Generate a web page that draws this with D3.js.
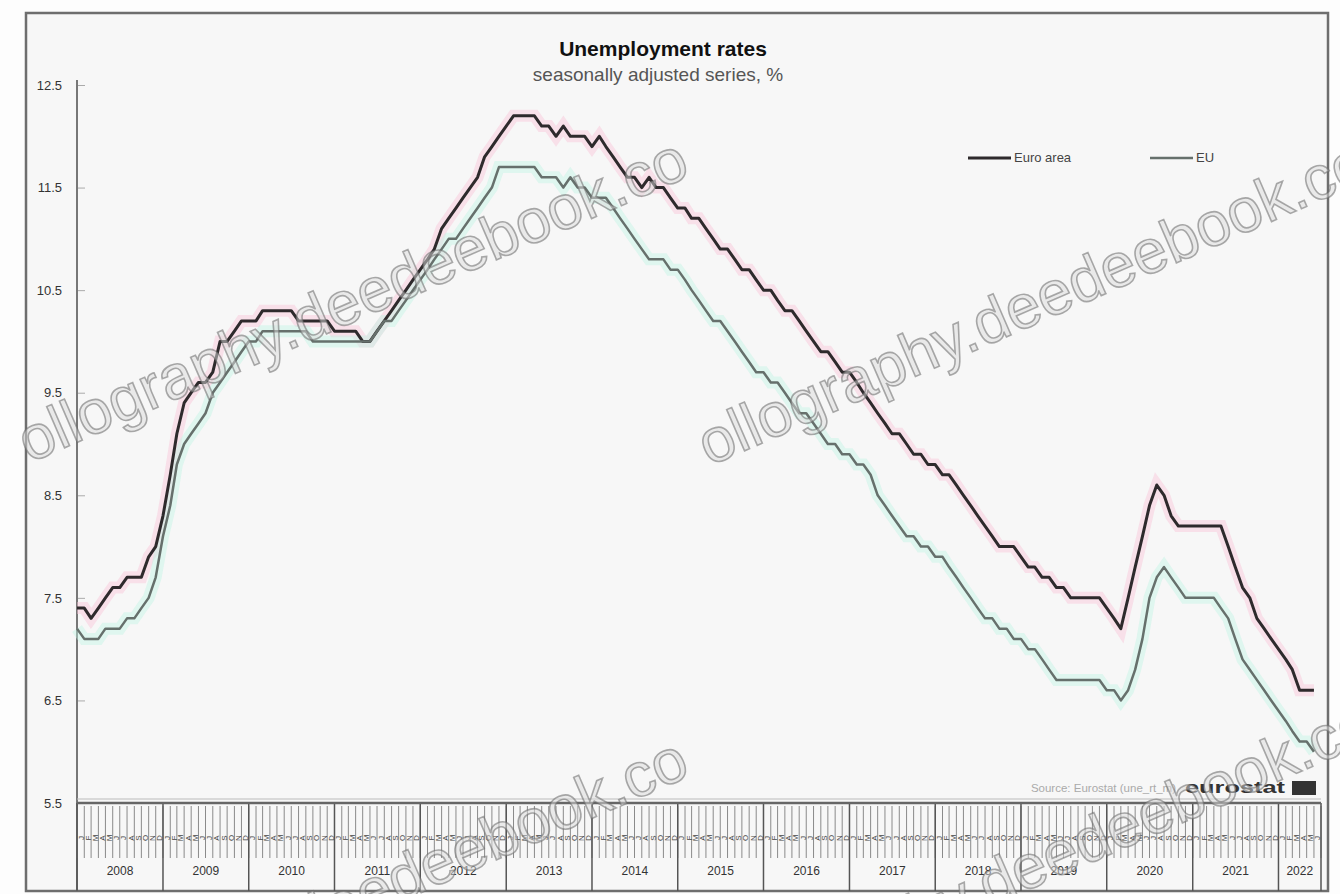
<!DOCTYPE html>
<html><head><meta charset="utf-8">
<script src="https://cdn.jsdelivr.net/npm/d3@7"></script>
<style>body{margin:0;background:#fdfdfd}svg{display:block;font-family:Arial,"Liberation Sans",sans-serif}</style>
</head><body><svg id="c" width="1340" height="894"></svg>
<script>
// ---- data ----
const title = "Unemployment rates";
const subtitle = "seasonally adjusted series, %";
const seriesNames = ["Euro area", "EU"];
const yTicks = [5.5, 6.5, 7.5, 8.5, 9.5, 10.5, 11.5, 12.5];
const years = [2008,2009,2010,2011,2012,2013,2014,2015,2016,2017,2018,2019,2020,2021,2022];
const monthLetters = ["J","F","M","A","M","J","J","A","S","O","N","D"];
// monthly values from 2008-01 to 2022-06
const euroArea = [
  7.4,7.4,7.3,7.4,7.5,7.6,7.6,7.7,7.7,7.7,7.9,8.0,
  8.3,8.7,9.1,9.4,9.5,9.6,9.6,9.7,10.0,10.0,10.1,10.2,
  10.2,10.2,10.3,10.3,10.3,10.3,10.3,10.2,10.2,10.2,10.2,10.2,
  10.1,10.1,10.1,10.1,10.0,10.0,10.1,10.2,10.3,10.4,10.5,10.6,
  10.7,10.8,10.9,11.1,11.2,11.3,11.4,11.5,11.6,11.8,11.9,12.0,
  12.1,12.2,12.2,12.2,12.2,12.1,12.1,12.0,12.1,12.0,12.0,12.0,
  11.9,12.0,11.9,11.8,11.7,11.6,11.6,11.5,11.6,11.5,11.5,11.4,
  11.3,11.3,11.2,11.2,11.1,11.0,10.9,10.9,10.8,10.7,10.7,10.6,
  10.5,10.5,10.4,10.3,10.3,10.2,10.1,10.0,9.9,9.9,9.8,9.7,
  9.7,9.6,9.5,9.4,9.3,9.2,9.1,9.1,9.0,8.9,8.9,8.8,
  8.8,8.7,8.7,8.6,8.5,8.4,8.3,8.2,8.1,8.0,8.0,8.0,
  7.9,7.8,7.8,7.7,7.7,7.6,7.6,7.5,7.5,7.5,7.5,7.5,
  7.4,7.3,7.2,7.5,7.8,8.1,8.4,8.6,8.5,8.3,8.2,8.2,
  8.2,8.2,8.2,8.2,8.2,8.0,7.8,7.6,7.5,7.3,7.2,7.1,
  7.0,6.9,6.8,6.6,6.6,6.6
];
const eu = [
  7.2,7.1,7.1,7.1,7.2,7.2,7.2,7.3,7.3,7.4,7.5,7.7,
  8.1,8.4,8.8,9.0,9.1,9.2,9.3,9.5,9.6,9.7,9.8,9.9,
  10.0,10.0,10.1,10.1,10.1,10.1,10.1,10.1,10.1,10.0,10.0,10.0,
  10.0,10.0,10.0,10.0,10.0,10.0,10.1,10.2,10.2,10.3,10.4,10.5,
  10.6,10.7,10.8,10.9,11.0,11.0,11.1,11.2,11.3,11.4,11.5,11.7,
  11.7,11.7,11.7,11.7,11.7,11.6,11.6,11.6,11.5,11.6,11.5,11.5,
  11.4,11.4,11.4,11.3,11.2,11.1,11.0,10.9,10.8,10.8,10.8,10.7,
  10.7,10.6,10.5,10.4,10.3,10.2,10.2,10.1,10.0,9.9,9.8,9.7,
  9.7,9.6,9.6,9.5,9.4,9.3,9.3,9.2,9.1,9.0,9.0,8.9,
  8.9,8.8,8.8,8.7,8.5,8.4,8.3,8.2,8.1,8.1,8.0,8.0,
  7.9,7.9,7.8,7.7,7.6,7.5,7.4,7.3,7.3,7.2,7.2,7.1,
  7.1,7.0,7.0,6.9,6.8,6.7,6.7,6.7,6.7,6.7,6.7,6.7,
  6.6,6.6,6.5,6.6,6.8,7.1,7.5,7.7,7.8,7.7,7.6,7.5,
  7.5,7.5,7.5,7.5,7.4,7.3,7.1,6.9,6.8,6.7,6.6,6.5,
  6.4,6.3,6.2,6.1,6.1,6.0
];
const watermarkText = "ollography.deedeebook.co";

// ---- chart ----
const svg = d3.select("#c");
const W = 1340, H = 894;
const L = 77, R = 1321, T = 85, B = 803;

svg.append("rect").attr("width", W).attr("height", H).attr("fill", "#fdfdfd");
svg.append("rect").attr("x", 26).attr("y", 13).attr("width", 1302).attr("height", 878)
  .attr("fill", "#f7f7f7").attr("stroke", "#6e6e6e").attr("stroke-width", 2.5);

const dates = euroArea.map((d, i) => new Date(2008, i, 1));
const x = d3.scaleTime().domain([new Date(2008, 0, 1), new Date(2022, 6, 1)]).range([L, R]);
const y = d3.scaleLinear().domain([5.5, 12.5]).range([B, T]);

// title
svg.append("text").attr("x", 663).attr("y", 56).attr("text-anchor", "middle")
  .attr("font-size", 21).attr("font-weight", "bold").attr("fill", "#111").text(title);
svg.append("text").attr("x", 658).attr("y", 81).attr("text-anchor", "middle")
  .attr("font-size", 19).attr("fill", "#555").text(subtitle);

// y axis
const yAxis = d3.axisLeft(y).tickValues(yTicks).tickFormat(d3.format(".1f")).tickSize(-8).tickPadding(15);
const gy = svg.append("g").attr("transform", `translate(${L},0)`).call(yAxis);
gy.select(".domain").remove();
gy.selectAll(".tick line").attr("stroke", "#aaa");
gy.selectAll(".tick text").attr("font-size", 13).attr("fill", "#333").attr("font-family", "Arial, sans-serif");
svg.append("line").attr("x1", L).attr("x2", L).attr("y1", 80).attr("y2", 891)
  .attr("stroke", "#777").attr("stroke-width", 2);

// x axis area
const monthStarts = d3.timeMonth.range(new Date(2008, 0, 1), new Date(2022, 7, 1));
svg.append("g").selectAll("line").data(monthStarts).join("line")
  .attr("x1", d => x(d)).attr("x2", d => x(d)).attr("y1", 806).attr("y2", 858)
  .attr("stroke", "#8a8a8a").attr("stroke-width", 1);
svg.append("g").selectAll("text").data(monthStarts.slice(0, -1)).join("text")
  .attr("transform", d => `translate(${x(d3.timeDay.offset(d, 15)) + 3},838) rotate(-90)`)
  .attr("text-anchor", "middle").attr("font-size", 8).attr("fill", "#444")
  .text(d => monthLetters[d.getMonth()]);
const yearStarts = years.map(yr => new Date(yr, 0, 1));
svg.append("g").selectAll("line").data(yearStarts.concat([new Date(2022, 6, 1)])).join("line")
  .attr("x1", d => x(d)).attr("x2", d => x(d)).attr("y1", 803).attr("y2", 891)
  .attr("stroke", "#555").attr("stroke-width", 1.5);
svg.append("g").selectAll("text").data(years).join("text")
  .attr("x", d => (x(new Date(d, 0, 1)) + x(d3.min([new Date(d + 1, 0, 1), new Date(2022, 6, 1)]))) / 2)
  .attr("y", 875).attr("text-anchor", "middle").attr("font-size", 12).attr("fill", "#333")
  .text(d => d);
svg.append("line").attr("x1", L).attr("x2", R).attr("y1", B).attr("y2", B)
  .attr("stroke", "#666").attr("stroke-width", 2.5);
svg.append("line").attr("x1", L).attr("x2", R).attr("y1", B - 4).attr("y2", B - 4)
  .attr("stroke", "#bbb").attr("stroke-width", 1);

// source / logo
svg.append("text").attr("x", 1176).attr("y", 792).attr("text-anchor", "end")
  .attr("font-size", 11.5).attr("fill", "#aaa").text("Source: Eurostat (une_rt_m)");
svg.append("text").attr("x", 1185).attr("y", 793)
  .attr("font-size", 16).attr("font-weight", "bold").attr("fill", "#333")
  .attr("textLength", 100).attr("lengthAdjust", "spacingAndGlyphs").text("eurostat");
svg.append("rect").attr("x", 1292).attr("y", 781).attr("width", 24).attr("height", 14).attr("fill", "#333");

// lines
const line = d3.line().x((d, i) => x(dates[i])).y(d => y(d));
const series = [
  {name: seriesNames[0], values: euroArea, color: "#2e2a2c", halo: "#f9c4d8", w: 3},
  {name: seriesNames[1], values: eu, color: "#66706c", halo: "#c2f3e4", w: 2.5}
];
svg.append("g").selectAll("path").data(series).join("path")
  .attr("d", d => line(d.values)).attr("fill", "none")
  .attr("stroke", d => d.halo).attr("stroke-width", 12).attr("stroke-opacity", 0.45);
svg.append("g").selectAll("path").data(series).join("path")
  .attr("d", d => line(d.values)).attr("fill", "none")
  .attr("stroke", d => d.color).attr("stroke-width", d => d.w).attr("stroke-linejoin", "round");

// legend
const lg = svg.append("g").selectAll("g").data(series).join("g")
  .attr("transform", (d, i) => `translate(${i === 0 ? 968 : 1150},158)`);
lg.append("line").attr("x1", 0).attr("x2", 43).attr("stroke", d => d.color).attr("stroke-width", d => d.w);
lg.append("text").attr("x", 46).attr("y", 4).attr("font-size", 13).attr("fill", "#444").text(d => d.name);

// watermark overlay
const wm = [[692, 175, 62], [1372, 178, 62], [692, 775, 62], [1378, 738, 62]];
svg.append("g").attr("pointer-events", "none").selectAll("text").data(wm).join("text")
  .attr("transform", d => `translate(${d[0]},${d[1]}) rotate(-23.5)`)
  .attr("text-anchor", "end").attr("font-size", d => d[2])
  .attr("fill", "#dcdcdc").attr("fill-opacity", 0.5)
  .attr("stroke", "#6a6a6a").attr("stroke-width", 1.6).attr("stroke-opacity", 0.55)
  .text(watermarkText);
</script></body></html>
